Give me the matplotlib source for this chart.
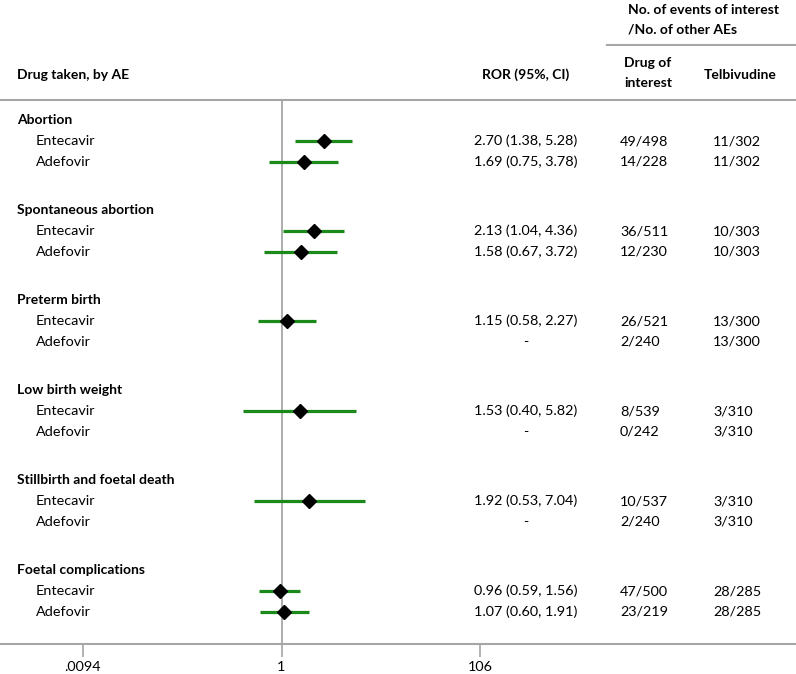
import numpy as np
import matplotlib.pyplot as plt
from matplotlib.lines import Line2D

plt.rcParams['font.family'] = ['Lato', 'DejaVu Sans']

# Forest plot data
groups = ["Abortion", "Spontaneous abortion", "Preterm birth",
          "Low birth weight", "Stillbirth and foetal death", "Foetal complications"]
drugs = ["Entecavir", "Adefovir"]

# ROR, lower CI, upper CI (None = not estimable)
ror = [2.70, 1.69, 2.13, 1.58, 1.15, None, 1.53, None, 1.92, None, 0.96, 1.07]
ci_low = [1.38, 0.75, 1.04, 0.67, 0.58, None, 0.40, None, 0.53, None, 0.59, 0.60]
ci_high = [5.28, 3.78, 4.36, 3.72, 2.27, None, 5.82, None, 7.04, None, 1.56, 1.91]

drug_counts = ["49/498", "14/228", "36/511", "12/230", "26/521", "2/240",
               "8/539", "0/242", "10/537", "2/240", "47/500", "23/219"]
telbi_counts = ["11/302", "11/302", "10/303", "10/303", "13/300", "13/300",
                "3/310", "3/310", "3/310", "3/310", "28/285", "28/285"]

xticks = [0.0094, 1, 106]
xtick_labels = [".0094", "1", "106"]

W, H = 796, 674
fig = plt.figure(figsize=(W / 100, H / 100), dpi=100)
ax = fig.add_axes([0, 30 / H, 1, 544 / H])

grey = "#a6a6a6"
green = "#1b8a1b"
fs = 10.4   # regular text
fsb = 10    # bold text

# log scale positioned so that 1 sits at x=281 px, ~98 px per decade
ppd = 97.97
x1 = 281.5
ax.set_xscale("log")
ax.set_xlim(10 ** (-x1 / ppd), 10 ** ((W - x1) / ppd))
ax.set_ylim(544, 0)

ax.axvline(1, color=grey, lw=1.3, zorder=1)

tr = ax.get_yaxis_transform()
for i, g in enumerate(groups):
    gy = 20 + 90 * i
    ax.text(17 / W, gy, g, transform=tr, fontsize=fsb, fontweight="bold",
            va="center", ha="left")
    for j, d in enumerate(drugs):
        k = i * 2 + j
        y = gy + 21 * (j + 1)
        ax.text(36 / W, y, d, transform=tr, fontsize=fs, va="center", ha="left")
        if ror[k] is not None:
            ax.plot([ci_low[k], ci_high[k]], [y, y], color=green, lw=2.3,
                    solid_capstyle="butt", zorder=2)
            ax.plot(ror[k], y, marker="D", color="black", ms=7, zorder=3)
            label = f"{ror[k]:.2f} ({ci_low[k]:.2f}, {ci_high[k]:.2f})"
        else:
            label = "-"
        ax.text(526 / W, y, label, transform=tr, fontsize=fs, va="center", ha="center")
        ax.text(620 / W, y, drug_counts[k], transform=tr, fontsize=fs,
                va="center", ha="left")
        ax.text(713 / W, y, telbi_counts[k], transform=tr, fontsize=fs,
                va="center", ha="left")

ax.set_xticks(xticks)
ax.set_xticklabels(xtick_labels, fontsize=fs)
ax.minorticks_off()
ax.tick_params(axis="x", direction="out", length=9, width=1.2, color=grey, pad=3)
ax.set_yticks([])
for s in ["left", "right"]:
    ax.spines[s].set_visible(False)
for s in ["top", "bottom"]:
    ax.spines[s].set_color(grey)
    ax.spines[s].set_linewidth(1.5)

# header block
def fy(py):
    return 1 - py / H

fig.text(17 / W, fy(75), "Drug taken, by AE", fontsize=fsb, fontweight="bold",
         va="center", ha="left")
fig.text(526 / W, fy(75), "ROR (95%, CI)", fontsize=fsb, fontweight="bold",
         va="center", ha="center")
fig.text(628 / W, fy(10), "No. of events of interest", fontsize=fsb,
         fontweight="bold", va="center", ha="left")
fig.text(628 / W, fy(29), "/No. of other AEs", fontsize=fsb,
         fontweight="bold", va="center", ha="left")
fig.text(648 / W, fy(63), "Drug of", fontsize=fsb, fontweight="bold",
         va="center", ha="center")
fig.text(648 / W, fy(83), "interest", fontsize=fsb, fontweight="bold",
         va="center", ha="center")
fig.text(740 / W, fy(75), "Telbivudine", fontsize=fsb, fontweight="bold",
         va="center", ha="center")
fig.add_artist(Line2D([607 / W, 1], [fy(45), fy(45)], color=grey, lw=1.5))

fig.savefig("out.png", dpi=100)
